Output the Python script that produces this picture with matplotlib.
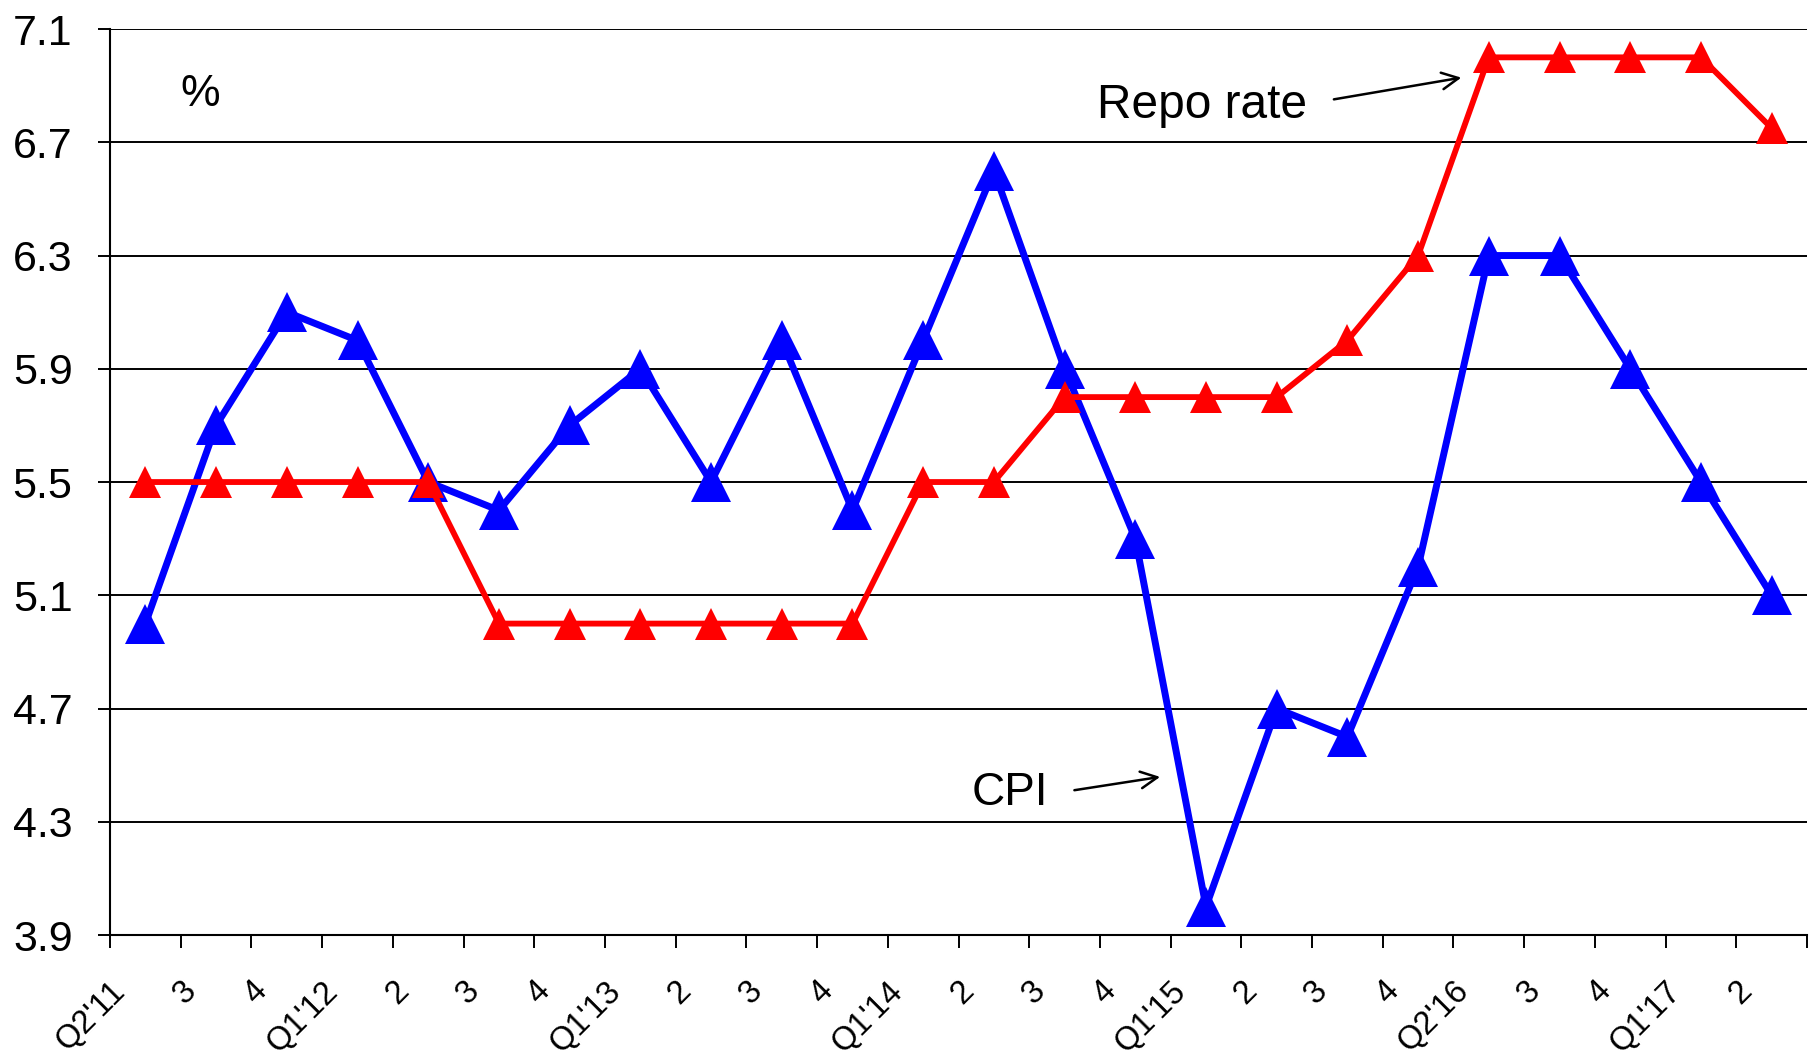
import matplotlib
matplotlib.use("Agg")
import matplotlib.pyplot as plt
import numpy as np

plt.rcParams['font.family'] = ['Liberation Sans', 'DejaVu Sans']

quarters = ["Q2'11", "3", "4", "Q1'12", "2", "3", "4", "Q1'13", "2", "3", "4",
            "Q1'14", "2", "3", "4", "Q1'15", "2", "3", "4", "Q2'16", "3", "4",
            "Q1'17", "2"]
cpi = [5.0, 5.7, 6.1, 6.0, 5.5, 5.4, 5.7, 5.9, 5.5, 6.0, 5.4, 6.0, 6.6, 5.9,
       5.3, 4.0, 4.7, 4.6, 5.2, 6.3, 6.3, 5.9, 5.5, 5.1]
repo = [5.5, 5.5, 5.5, 5.5, 5.5, 5.0, 5.0, 5.0, 5.0, 5.0, 5.0, 5.5, 5.5, 5.8,
        5.8, 5.8, 5.8, 6.0, 6.3, 7.0, 7.0, 7.0, 7.0, 6.75]
yticks = [3.9, 4.3, 4.7, 5.1, 5.5, 5.9, 6.3, 6.7, 7.1]

fig = plt.figure(figsize=(18.19, 10.60), dpi=100)
ax = fig.add_axes([0.0605, 0.1179, 0.9329, 0.8547])

n = len(quarters)
x = np.arange(n) + 0.5

ax.plot(x, cpi, color='#0000FF', lw=5.0, marker='^', ms=29,
        markeredgewidth=0, zorder=3, solid_joinstyle='miter')
ax.plot(x, repo, color='#FF0000', lw=4.2, marker='^', ms=22.5,
        markeredgewidth=0, zorder=4, solid_joinstyle='miter')

ax.set_xlim(0, n)
ax.set_ylim(3.9, 7.1)
ax.set_yticks(yticks)
ax.set_yticklabels([f"{v:.1f}" for v in yticks], fontsize=31)
ax.set_xticks(np.arange(n + 1))
ax.set_xticklabels(quarters + [""], fontsize=23.5, rotation=45,
                   ha='right', va='top', rotation_mode='anchor')

ax.grid(axis='y', color='black', lw=1.4, zorder=1)
ax.set_axisbelow(True)
for s in ['top', 'right']:
    ax.spines[s].set_visible(False)
for s in ['left', 'bottom']:
    ax.spines[s].set_linewidth(1.5)
ax.tick_params(axis='y', length=9, width=1.4, pad=18)
ax.tick_params(axis='x', length=9, width=1.4, pad=20)

ax.text(1.27, 6.87, "%", fontsize=32, ha='center', va='center')

ax.annotate("", xy=(19.15, 6.93), xytext=(17.27, 6.85),
            arrowprops=dict(arrowstyle='->', lw=1.8, color='black',
                            mutation_scale=30))
ax.text(13.96, 6.83, "Repo rate", fontsize=34.5, ha='left', va='center')

ax.annotate("", xy=(14.89, 4.46), xytext=(13.6, 4.41),
            arrowprops=dict(arrowstyle='->', lw=1.8, color='black',
                            mutation_scale=30))
ax.text(12.19, 4.40, "CPI", fontsize=33, ha='left', va='center')

fig.savefig("out.png", dpi=100)
